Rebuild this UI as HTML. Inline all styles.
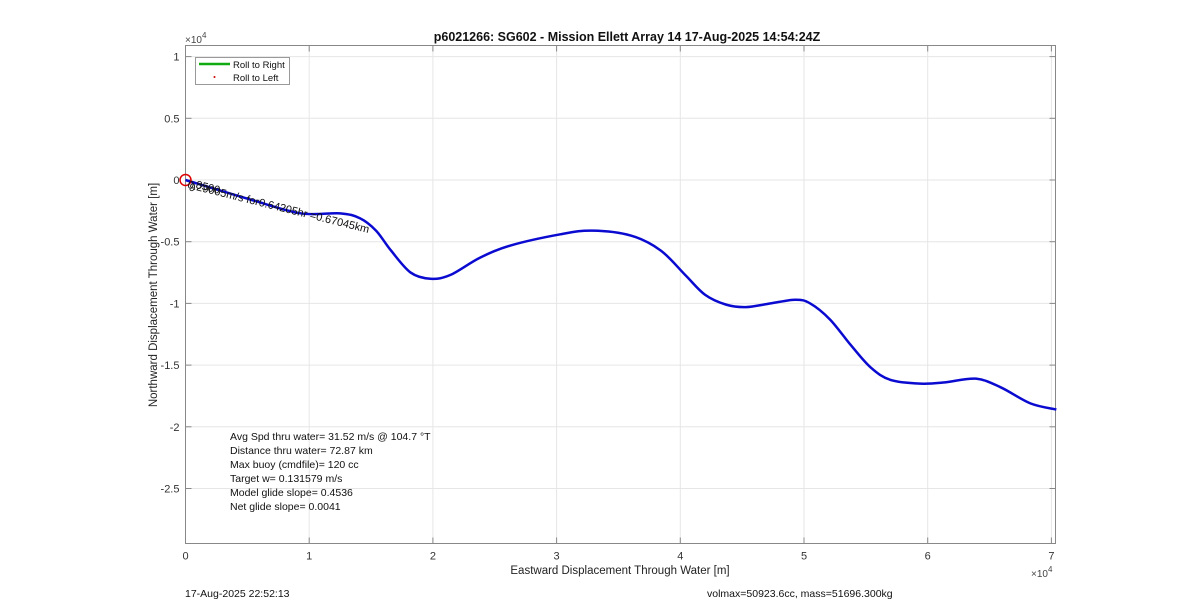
<!DOCTYPE html>
<html><head><meta charset="utf-8"><style>
body{margin:0;background:#fff;}
svg{display:block;font-family:"Liberation Sans",Arial,sans-serif;}
</style></head><body>
<svg id="chart" width="1200" height="611">
<rect width="1200" height="611" fill="#fff"/>
<text x="627" y="41" text-anchor="middle" font-size="12.5" font-weight="bold" fill="#111">p6021266: SG602 - Mission Ellett Array 14 17-Aug-2025 14:54:24Z</text>
<g id="grid"></g>
<rect x="185.5" y="45.5" width="870" height="498" fill="none" stroke="#888"/>
<g id="ticks"></g>
<text x="185" y="43" font-size="10" fill="#444">×10<tspan dy="-5" font-size="8">4</tspan></text>
<text x="1031" y="577" font-size="10" fill="#444">×10<tspan dy="-5" font-size="8">4</tspan></text>
<text x="620" y="574" text-anchor="middle" font-size="11.5" fill="#222">Eastward Displacement Through Water [m]</text>
<text transform="translate(157,295) rotate(-90)" text-anchor="middle" font-size="11.5" fill="#222">Northward Displacement Through Water [m]</text>
<g id="series"></g>
<circle id="start" r="5.5" fill="none" stroke="#d00" stroke-width="1.5"/>
<g transform="translate(188,184) rotate(14)" font-size="11" fill="#111">
<text x="0" y="4">0.29005m/s for0.64205hr =0.67045km</text>
<text x="2" y="6">9</text><text x="8" y="2">8500</text>
</g>
<g>
<rect x="195.5" y="57.5" width="94" height="27" fill="#fff" stroke="#999"/>
<line x1="199" y1="64" x2="230" y2="64" stroke="#1a1" stroke-width="2.5"/>
<text x="233" y="68" font-size="9.5" fill="#111">Roll to Right</text>
<circle cx="214.5" cy="77" r="1" fill="#c00"/>
<text x="233" y="81" font-size="9.5" fill="#111">Roll to Left</text>
</g>
<g font-size="10.5" fill="#111">
<text x="230" y="440">Avg Spd thru water= 31.52 m/s @ 104.7 °T</text>
<text x="230" y="454">Distance thru water= 72.87 km</text>
<text x="230" y="468">Max buoy (cmdfile)= 120 cc</text>
<text x="230" y="482">Target w= 0.131579 m/s</text>
<text x="230" y="496">Model glide slope= 0.4536</text>
<text x="230" y="510">Net glide slope= 0.0041</text>
</g>
<text x="185" y="597" font-size="10.5" fill="#111">17-Aug-2025 22:52:13</text>
<text x="707" y="597" font-size="10.5" fill="#111">volmax=50923.6cc, mass=51696.300kg</text>
</svg>
<script>
const xTicks=[0,1,2,3,4,5,6,7];
const yTicks=[1,0.5,0,-0.5,-1,-1.5,-2,-2.5];
const yTickLabels=["1","0.5","0","-0.5","-1","-1.5","-2","-2.5"];
const trackX=[0,0.53,0.93,1.25,1.41,1.54,1.66,1.82,1.98,2.14,2.38,2.63,3.03,3.29,3.6,3.84,4.04,4.2,4.37,4.53,4.73,4.93,5.05,5.21,5.38,5.54,5.7,5.94,6.14,6.39,6.59,6.83,7.04];
const trackY=[0,-0.16,-0.27,-0.27,-0.31,-0.41,-0.57,-0.75,-0.80,-0.77,-0.63,-0.53,-0.44,-0.41,-0.45,-0.57,-0.77,-0.93,-1.01,-1.03,-1.0,-0.97,-1.0,-1.13,-1.34,-1.52,-1.62,-1.65,-1.64,-1.61,-1.68,-1.81,-1.86];
const X0=185.5,XS=123.7,Y0=180,YS=123.4,L=185.5,R=1055.5,T=45.5,B=543.5;
const sx=v=>X0+v*XS, sy=v=>Y0-v*YS;
const NS="http://www.w3.org/2000/svg";
const grid=document.getElementById('grid'),ticks=document.getElementById('ticks'),ser=document.getElementById('series');
function mk(tag,at,parent){const e=document.createElementNS(NS,tag);for(const k in at)e.setAttribute(k,at[k]);parent.appendChild(e);return e;}
xTicks.forEach((v,i)=>{const x=sx(v);
 const g=mk('line',{x1:x,x2:x,y1:T,y2:B,stroke:'#e6e6e6'},grid);
 
 
 const t=mk('line',{x1:x,x2:x,y1:B,y2:B-6,stroke:'#888'},ticks);
 
 
 const t2=mk('line',{x1:x,x2:x,y1:T,y2:T+6,stroke:'#888'},ticks);
 
 
 const l=mk('text',{x:x,y:B+16,'text-anchor':'middle','font-size':'11',fill:'#333'},ticks);
 l.textContent=String(v);
 
 
});
yTicks.forEach((v,i)=>{const y=sy(v);
 const g=mk('line',{x1:L,x2:R,y1:y,y2:y,stroke:'#e6e6e6'},grid);
 
 
 const t=mk('line',{x1:L,x2:L+6,y1:y,y2:y,stroke:'#888'},ticks);
 
 
 const t2=mk('line',{x1:R,x2:R-6,y1:y,y2:y,stroke:'#888'},ticks);
 
 
 const l=mk('text',{x:L-6,y:y+4,'text-anchor':'end','font-size':'11',fill:'#333'},ticks);
 l.textContent=yTickLabels[i];
 
 
});
// smooth path via Catmull-Rom
const pts=trackX.map((v,i)=>[sx(v),sy(trackY[i])]);
let d='M'+pts[0][0]+','+pts[0][1];
for(let i=0;i<pts.length-1;i++){const p0=pts[Math.max(0,i-1)],p1=pts[i],p2=pts[i+1],p3=pts[Math.min(pts.length-1,i+2)];
 d+=' C'+(p1[0]+(p2[0]-p0[0])/6)+','+(p1[1]+(p2[1]-p0[1])/6)+' '+(p2[0]-(p3[0]-p1[0])/6)+','+(p2[1]-(p3[1]-p1[1])/6)+' '+p2[0]+','+p2[1];}
const path=mk('path',{d:d,fill:'none',stroke:'#0a0ad0','stroke-width':'2.5','stroke-linejoin':'round'},ser);


const c=document.getElementById('start');c.setAttribute('cx',sx(trackX[0]));c.setAttribute('cy',sy(trackY[0]));
</script>
</body></html>
